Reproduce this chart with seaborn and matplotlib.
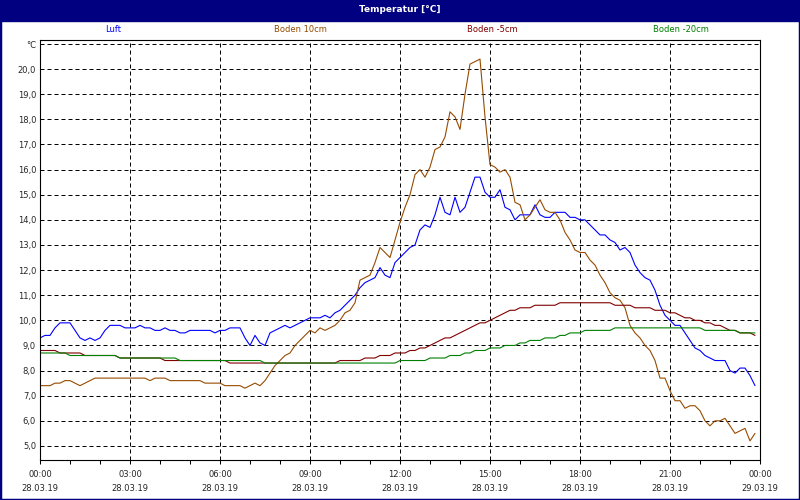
import numpy as np
import pandas as pd
import matplotlib
matplotlib.use("Agg")
import matplotlib.pyplot as plt
from matplotlib.patches import Rectangle
from matplotlib.ticker import MultipleLocator, FixedLocator
import seaborn as sns

# 10-minute readings, 28.03.19 00:00 .. 23:50
luft = [
    9.3, 9.4, 9.4, 9.7, 9.9, 9.9, 9.9, 9.6, 9.3, 9.2, 9.3, 9.2,
    9.3, 9.6, 9.8, 9.8, 9.8, 9.7, 9.7, 9.7, 9.8, 9.7, 9.7, 9.6,
    9.6, 9.7, 9.6, 9.6, 9.5, 9.5, 9.6, 9.6, 9.6, 9.6, 9.6, 9.5,
    9.6, 9.6, 9.7, 9.7, 9.7, 9.3, 9.0, 9.4, 9.1, 9.0, 9.5, 9.6,
    9.7, 9.8, 9.7, 9.8, 9.9, 10.0, 10.1, 10.1, 10.1, 10.2, 10.1, 10.3,
    10.4, 10.6, 10.8, 11.0, 11.3, 11.5, 11.6, 11.7, 12.1, 11.8, 11.7, 12.3,
    12.5, 12.7, 12.9, 13.0, 13.6, 13.8, 13.7, 14.2, 14.9, 14.3, 14.2, 14.9,
    14.3, 14.5, 15.1, 15.7, 15.7, 15.1, 14.9, 14.9, 15.2, 14.5, 14.4, 14.0,
    14.2, 14.2, 14.2, 14.6, 14.2, 14.1, 14.1, 14.3, 14.3, 14.3, 14.1, 14.1,
    14.0, 14.0, 13.8, 13.6, 13.4, 13.4, 13.2, 13.1, 12.8, 12.9, 12.7, 12.2,
    11.9, 11.7, 11.6, 11.2, 10.6, 10.2, 10.0, 9.8, 9.8, 9.5, 9.2, 8.9,
    8.8, 8.6, 8.5, 8.4, 8.4, 8.4, 8.0, 7.9, 8.1, 8.1, 7.8, 7.4,
]
boden_10 = [
    7.4, 7.4, 7.4, 7.5, 7.5, 7.6, 7.6, 7.5, 7.4, 7.5, 7.6, 7.7,
    7.7, 7.7, 7.7, 7.7, 7.7, 7.7, 7.7, 7.7, 7.7, 7.7, 7.6, 7.7,
    7.7, 7.7, 7.6, 7.6, 7.6, 7.6, 7.6, 7.6, 7.6, 7.5, 7.5, 7.5,
    7.5, 7.4, 7.4, 7.4, 7.4, 7.3, 7.4, 7.5, 7.4, 7.6, 7.9, 8.2,
    8.4, 8.6, 8.7, 9.0, 9.2, 9.4, 9.6, 9.5, 9.7, 9.6, 9.7, 9.8,
    10.0, 10.3, 10.4, 10.7, 11.6, 11.7, 11.8, 12.3, 12.9, 12.7, 12.5, 13.2,
    13.9, 14.5, 15.0, 15.8, 16.0, 15.7, 16.1, 16.8, 16.9, 17.3, 18.3, 18.1,
    17.6, 19.0, 20.2, 20.3, 20.4, 18.1, 16.2, 16.1, 15.9, 16.0, 15.7, 14.7,
    14.6, 14.0, 14.2, 14.5, 14.8, 14.4, 14.3, 14.3, 14.0, 13.5, 13.2, 12.8,
    12.7, 12.7, 12.4, 12.2, 11.8, 11.5, 11.1, 10.9, 10.8, 10.5, 9.8, 9.5,
    9.3, 9.0, 8.8, 8.4, 7.7, 7.7, 7.2, 6.8, 6.8, 6.5, 6.6, 6.6,
    6.4, 6.0, 5.8, 6.0, 6.0, 6.1, 5.8, 5.5, 5.6, 5.7, 5.2, 5.5,
]
boden_m5 = [
    8.8, 8.8, 8.8, 8.8, 8.7, 8.7, 8.7, 8.7, 8.7, 8.6, 8.6, 8.6,
    8.6, 8.6, 8.6, 8.6, 8.5, 8.5, 8.5, 8.5, 8.5, 8.5, 8.5, 8.5,
    8.5, 8.4, 8.4, 8.4, 8.4, 8.4, 8.4, 8.4, 8.4, 8.4, 8.4, 8.4,
    8.4, 8.4, 8.3, 8.3, 8.3, 8.3, 8.3, 8.3, 8.3, 8.3, 8.3, 8.3,
    8.3, 8.3, 8.3, 8.3, 8.3, 8.3, 8.3, 8.3, 8.3, 8.3, 8.3, 8.3,
    8.4, 8.4, 8.4, 8.4, 8.4, 8.5, 8.5, 8.5, 8.6, 8.6, 8.6, 8.7,
    8.7, 8.7, 8.8, 8.8, 8.9, 8.9, 9.0, 9.1, 9.2, 9.3, 9.3, 9.4,
    9.5, 9.6, 9.7, 9.8, 9.9, 9.9, 10.0, 10.1, 10.2, 10.3, 10.4, 10.4,
    10.5, 10.5, 10.5, 10.6, 10.6, 10.6, 10.6, 10.6, 10.7, 10.7, 10.7, 10.7,
    10.7, 10.7, 10.7, 10.7, 10.7, 10.7, 10.7, 10.6, 10.6, 10.6, 10.6, 10.5,
    10.5, 10.5, 10.5, 10.4, 10.4, 10.4, 10.3, 10.3, 10.2, 10.1, 10.1, 10.0,
    10.0, 9.9, 9.9, 9.8, 9.8, 9.7, 9.6, 9.6, 9.5, 9.5, 9.5, 9.4,
]
boden_m20 = [
    8.7, 8.7, 8.7, 8.7, 8.7, 8.7, 8.6, 8.6, 8.6, 8.6, 8.6, 8.6,
    8.6, 8.6, 8.6, 8.6, 8.5, 8.5, 8.5, 8.5, 8.5, 8.5, 8.5, 8.5,
    8.5, 8.5, 8.5, 8.5, 8.4, 8.4, 8.4, 8.4, 8.4, 8.4, 8.4, 8.4,
    8.4, 8.4, 8.4, 8.4, 8.4, 8.4, 8.4, 8.4, 8.4, 8.3, 8.3, 8.3,
    8.3, 8.3, 8.3, 8.3, 8.3, 8.3, 8.3, 8.3, 8.3, 8.3, 8.3, 8.3,
    8.3, 8.3, 8.3, 8.3, 8.3, 8.3, 8.3, 8.3, 8.3, 8.3, 8.3, 8.3,
    8.4, 8.4, 8.4, 8.4, 8.4, 8.4, 8.5, 8.5, 8.5, 8.5, 8.6, 8.6,
    8.6, 8.7, 8.7, 8.8, 8.8, 8.8, 8.9, 8.9, 8.9, 9.0, 9.0, 9.0,
    9.1, 9.1, 9.2, 9.2, 9.2, 9.3, 9.3, 9.3, 9.4, 9.4, 9.5, 9.5,
    9.5, 9.6, 9.6, 9.6, 9.6, 9.6, 9.6, 9.7, 9.7, 9.7, 9.7, 9.7,
    9.7, 9.7, 9.7, 9.7, 9.7, 9.7, 9.7, 9.7, 9.7, 9.7, 9.7, 9.7,
    9.7, 9.6, 9.6, 9.6, 9.6, 9.6, 9.6, 9.6, 9.5, 9.5, 9.5, 9.5,
]

series = ["Luft", "Boden 10cm", "Boden -5cm", "Boden -20cm"]
colors = ["#0000ff", "#964b00", "#800000", "#008000"]
hour_ticks = [0, 3, 6, 9, 12, 15, 18, 21, 24]
date_labels = ["28.03.19"] * 8 + ["29.03.19"]
navy = "#000080"

hours = np.arange(len(luft)) / 6
df = pd.concat(
    [
        pd.DataFrame({"Zeit": hours, "Temperatur": vals, "Sensor": name})
        for name, vals in zip(series, [luft, boden_10, boden_m5, boden_m20])
    ]
)

sns.set_style("white")
plt.rcParams["font.family"] = ["DejaVu Sans"]
plt.rcParams["font.size"] = 6

fig = plt.figure(figsize=(8, 5), dpi=100)
ax = fig.add_axes([40 / 800, 40 / 500, 720 / 800, 420 / 500])

sns.lineplot(
    data=df,
    x="Zeit",
    y="Temperatur",
    hue="Sensor",
    palette=dict(zip(series, colors)),
    legend=False,
    linewidth=0.8,
    ax=ax,
)

ax.set_xlim(0, 24)
ax.set_ylim(4.44, 21.16)
ax.set_xlabel("")
ax.set_ylabel("")

# x axis: labels every 3h, ticks every hour
ax.xaxis.set_major_locator(FixedLocator(hour_ticks))
ax.xaxis.set_minor_locator(MultipleLocator(1))
ax.set_xticklabels(
    [f"{h % 24:02d}:00\n{d}" for h, d in zip(hour_ticks, date_labels)],
    linespacing=1.6,
)
ax.tick_params(axis="x", which="both", direction="out", length=3, width=0.75,
               color="black", pad=4.5, bottom=True)

# y axis: whole degrees, top line carries the unit
yticks = list(range(5, 22))
ax.yaxis.set_major_locator(FixedLocator(yticks))
ax.set_yticklabels([f"{v:.1f}".replace(".", ",") for v in yticks[:-1]] + ["°C"])
ax.tick_params(axis="y", length=0, pad=2.8, left=True)

ax.grid(True, which="major", color="black", linestyle=(0, (4, 3)), linewidth=0.72)
for s in ax.spines.values():
    s.set_color("black")
    s.set_linewidth(0.8)

# title bar and window frame
fig.patches.append(Rectangle((0, 1 - 21 / 500), 1, 21 / 500,
                             transform=fig.transFigure, color=navy, zorder=0))
fig.patches.append(Rectangle((0, 0), 1, 1, transform=fig.transFigure,
                             fill=False, edgecolor=navy, linewidth=2.5))
fig.text(0.5, 1 - 10 / 500, "Temperatur [°C]", color="white", fontweight="bold",
         fontsize=6.5, ha="center", va="center")

# legend row
for name, col, xc in zip(series, colors, [113, 300, 492, 681]):
    fig.text(xc / 800, 1 - 30 / 500, name, color=col, ha="center", va="center")

fig.savefig("out.png", dpi=100)
